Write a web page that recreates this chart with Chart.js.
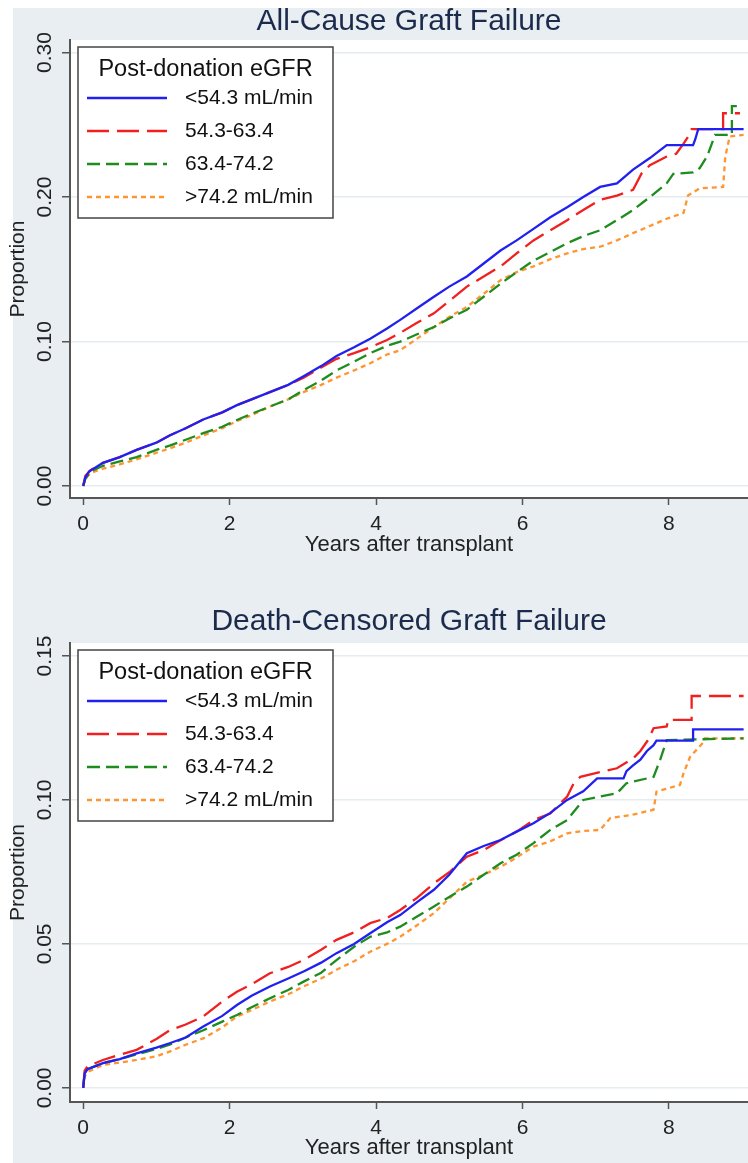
<!DOCTYPE html>
<html>
<head>
<meta charset="utf-8">
<script src="https://cdn.jsdelivr.net/npm/chart.js@4.4.0/dist/chart.umd.min.js"></script>
<style>
  html, body { margin: 0; padding: 0; background: #fff; }
  .box { position: relative; width: 748px; }
  #top { height: 580px; }
  #bottom { height: 583px; }
</style>
</head>
<body>
<div class="box" id="top"><canvas id="allCause"></canvas></div>
<div class="box" id="bottom"><canvas id="deathCens"></canvas></div>
<script>
// groups
const groups = ['<54.3 mL/min', '54.3-63.4', '63.4-74.2', '>74.2 mL/min'];
const colors = ['#2020f0', '#f02020', '#1f8c1f', '#ff9530'];
const dashes = [[], [22, 8], [13, 6], [5, 4]];
const legendTitle = 'Post-donation eGFR';

// All-cause graft failure (years, proportion)
const acLowT = [0, 0.03, 0.08, 0.27, 0.5, 0.73, 1.0, 1.18, 1.4, 1.64, 1.9, 2.1, 2.3, 2.55, 2.8, 3.01, 3.25, 3.46, 3.7, 3.92, 4.15, 4.33, 4.56, 4.79, 5.0, 5.24, 5.47, 5.7, 5.92, 6.15, 6.38, 6.61, 6.83, 7.06, 7.29, 7.51, 7.74, 7.97, 8.33, 8.36, 8.4, 9.02];
const acLowP = [0, 0.006, 0.010, 0.016, 0.020, 0.025, 0.030, 0.035, 0.040, 0.046, 0.051, 0.056, 0.060, 0.065, 0.070, 0.076, 0.083, 0.090, 0.096, 0.102, 0.109, 0.115, 0.123, 0.131, 0.138, 0.145, 0.154, 0.163, 0.170, 0.178, 0.186, 0.193, 0.200, 0.207, 0.2095, 0.219, 0.227, 0.236, 0.236, 0.240, 0.247, 0.247];

const acMidT = [0, 0.03, 0.1, 0.27, 0.5, 0.73, 1.0, 1.18, 1.4, 1.64, 1.9, 2.1, 2.3, 2.55, 2.8, 3.01, 3.25, 3.46, 3.7, 3.92, 4.15, 4.33, 4.56, 4.79, 5.0, 5.24, 5.47, 5.7, 5.92, 6.15, 6.38, 6.61, 6.83, 7.06, 7.29, 7.51, 7.63, 7.74, 7.97, 8.1, 8.2, 8.29, 8.31, 8.74, 8.74, 8.97];
const acMidP = [0, 0.007, 0.011, 0.016, 0.020, 0.025, 0.030, 0.035, 0.040, 0.046, 0.051, 0.056, 0.060, 0.065, 0.070, 0.075, 0.082, 0.088, 0.092, 0.096, 0.101, 0.106, 0.113, 0.1195, 0.128, 0.138, 0.145, 0.152, 0.161, 0.170, 0.177, 0.184, 0.191, 0.198, 0.201, 0.205, 0.2166, 0.222, 0.228, 0.230, 0.237, 0.244, 0.247, 0.247, 0.258, 0.258];

const acHighT = [0, 0.03, 0.1, 0.27, 0.5, 0.73, 1.0, 1.18, 1.4, 1.64, 1.9, 2.1, 2.3, 2.55, 2.8, 3.01, 3.25, 3.46, 3.7, 3.92, 4.15, 4.33, 4.56, 4.79, 5.0, 5.24, 5.47, 5.7, 5.92, 6.15, 6.38, 6.61, 6.83, 7.06, 7.29, 7.51, 7.74, 7.97, 8.06, 8.33, 8.42, 8.52, 8.63, 8.86, 8.86, 8.97];
const acHighP = [0, 0.005, 0.010, 0.014, 0.017, 0.020, 0.025, 0.028, 0.032, 0.0366, 0.041, 0.0457, 0.050, 0.055, 0.060, 0.0664, 0.073, 0.080, 0.086, 0.092, 0.097, 0.0999, 0.105, 0.110, 0.116, 0.122, 0.131, 0.140, 0.148, 0.156, 0.162, 0.168, 0.173, 0.177, 0.184, 0.191, 0.200, 0.2095, 0.216, 0.217, 0.220, 0.228, 0.243, 0.243, 0.263, 0.263];

const acTopT = [0, 0.03, 0.1, 0.27, 0.5, 0.73, 1.0, 1.18, 1.4, 1.64, 1.9, 2.1, 2.3, 2.55, 2.8, 3.01, 3.25, 3.46, 3.7, 3.92, 4.15, 4.33, 4.56, 4.79, 5.0, 5.24, 5.47, 5.7, 5.92, 6.15, 6.38, 6.61, 6.83, 7.06, 7.29, 7.51, 7.74, 7.97, 8.2, 8.26, 8.42, 8.74, 8.77, 8.83, 9.02];
const acTopP = [0, 0.005, 0.009, 0.012, 0.015, 0.0185, 0.023, 0.026, 0.030, 0.035, 0.040, 0.045, 0.049, 0.055, 0.060, 0.065, 0.070, 0.075, 0.080, 0.085, 0.091, 0.094, 0.102, 0.110, 0.117, 0.124, 0.133, 0.1425, 0.148, 0.152, 0.157, 0.161, 0.164, 0.1656, 0.170, 0.175, 0.180, 0.185, 0.189, 0.201, 0.206, 0.207, 0.228, 0.242, 0.243];

// Death-censored graft failure (years, proportion)
const dcLowT = [0, 0.02, 0.06, 0.27, 0.5, 0.73, 1.0, 1.18, 1.4, 1.64, 1.9, 2.1, 2.3, 2.55, 2.8, 3.01, 3.25, 3.46, 3.7, 3.92, 4.15, 4.33, 4.56, 4.79, 5.0, 5.24, 5.47, 5.7, 5.92, 6.15, 6.38, 6.61, 6.83, 7.02, 7.38, 7.42, 7.51, 7.61, 7.7, 7.79, 7.83, 8.33, 8.33, 9.02];
const dcLowP = [0, 0.005, 0.0065, 0.0086, 0.010, 0.012, 0.014, 0.0155, 0.0175, 0.0213, 0.025, 0.0288, 0.032, 0.0352, 0.038, 0.0404, 0.0435, 0.0468, 0.050, 0.0537, 0.0575, 0.060, 0.0645, 0.0688, 0.074, 0.0815, 0.084, 0.0861, 0.089, 0.0919, 0.0955, 0.100, 0.103, 0.1075, 0.1075, 0.110, 0.112, 0.114, 0.117, 0.119, 0.1206, 0.1206, 0.1245, 0.1245];

const dcMidT = [0, 0.02, 0.06, 0.27, 0.5, 0.73, 1.0, 1.18, 1.4, 1.64, 1.9, 2.1, 2.3, 2.55, 2.8, 3.01, 3.25, 3.46, 3.7, 3.92, 4.15, 4.33, 4.56, 4.79, 5.01, 5.24, 5.47, 5.7, 5.92, 6.15, 6.38, 6.61, 6.7, 6.79, 7.06, 7.29, 7.51, 7.61, 7.72, 7.79, 7.97, 7.99, 8.31, 8.31, 9.02];
const dcMidP = [0, 0.006, 0.0075, 0.0097, 0.0115, 0.0132, 0.017, 0.020, 0.022, 0.0248, 0.030, 0.0334, 0.036, 0.0398, 0.042, 0.0444, 0.048, 0.0514, 0.054, 0.0572, 0.059, 0.0618, 0.066, 0.071, 0.0751, 0.0803, 0.0826, 0.086, 0.089, 0.093, 0.0953, 0.1012, 0.1058, 0.108, 0.1097, 0.111, 0.1144, 0.117, 0.121, 0.1249, 0.1255, 0.1278, 0.1278, 0.1361, 0.1361];

const dcHighT = [0, 0.02, 0.06, 0.27, 0.5, 0.73, 1.0, 1.18, 1.4, 1.64, 1.9, 2.1, 2.3, 2.55, 2.8, 3.01, 3.25, 3.46, 3.7, 3.92, 4.15, 4.33, 4.56, 4.79, 5.01, 5.24, 5.47, 5.7, 5.92, 6.15, 6.38, 6.61, 6.83, 7.06, 7.29, 7.42, 7.79, 7.88, 7.97, 9.02];
const dcHighP = [0, 0.005, 0.0065, 0.0086, 0.010, 0.0116, 0.0135, 0.015, 0.0175, 0.020, 0.023, 0.0253, 0.028, 0.0311, 0.034, 0.0369, 0.040, 0.0444, 0.049, 0.0525, 0.054, 0.056, 0.0595, 0.063, 0.0665, 0.0699, 0.074, 0.078, 0.081, 0.085, 0.0896, 0.093, 0.100, 0.1012, 0.1023, 0.1058, 0.108, 0.1139, 0.1208, 0.1214];

const dcTopT = [0, 0.02, 0.06, 0.27, 0.5, 0.73, 1.0, 1.18, 1.4, 1.64, 1.9, 2.1, 2.3, 2.55, 2.8, 3.01, 3.25, 3.46, 3.7, 3.92, 4.15, 4.33, 4.56, 4.79, 5.01, 5.24, 5.47, 5.7, 5.92, 6.15, 6.38, 6.61, 6.83, 7.06, 7.2, 7.51, 7.79, 7.83, 8.15, 8.2, 8.29, 8.47, 8.49, 9.02];
const dcTopP = [0, 0.004, 0.0055, 0.008, 0.0088, 0.0097, 0.011, 0.0126, 0.015, 0.0172, 0.021, 0.0248, 0.027, 0.030, 0.0325, 0.0352, 0.038, 0.041, 0.044, 0.0473, 0.050, 0.0525, 0.0565, 0.0607, 0.066, 0.0716, 0.074, 0.0768, 0.080, 0.0838, 0.0856, 0.0884, 0.0892, 0.0896, 0.0937, 0.0949, 0.0966, 0.1029, 0.1052, 0.1093, 0.115, 0.120, 0.1214, 0.1214];

const FONT = '"Liberation Sans", Arial, Helvetica, sans-serif';

function pairs(ts, ps) {
  return ts.map((t, i) => ({ x: t, y: ps[i] }));
}

function makeSets(series) {
  return series.map((s, i) => ({
    label: groups[i],
    data: pairs(s[0], s[1]),
    borderColor: colors[i],
    borderDash: dashes[i],
    borderWidth: 2.3,
    pointRadius: 0,
    tension: 0,
    fill: false,
  }));
}

// grey page background + white plot region
const backdrop = {
  id: 'backdrop',
  beforeDraw(chart, args, opts) {
    const { ctx, width, height, chartArea: a } = chart;
    ctx.save();
    ctx.fillStyle = '#fff';
    ctx.fillRect(0, 0, width, height);
    ctx.fillStyle = '#e8eef1';
    ctx.fillRect(13, opts.top, width - 13, height - opts.top);
    ctx.fillStyle = '#fff';
    ctx.fillRect(a.left, a.top, a.right - a.left, a.bottom - a.top);
    ctx.restore();
  }
};

// vertical y tick labels, Stata style
const yLabels = {
  id: 'yLabels',
  afterDraw(chart) {
    const y = chart.scales.y;
    const ctx = chart.ctx;
    ctx.save();
    ctx.font = '21px ' + FONT;
    ctx.fillStyle = '#222';
    ctx.textAlign = 'center';
    ctx.textBaseline = 'middle';
    y.ticks.forEach(t => {
      const py = y.getPixelForValue(t.value);
      ctx.save();
      ctx.translate(45, py);
      ctx.rotate(-Math.PI / 2);
      ctx.fillText(t.value.toFixed(2), 0, 0);
      ctx.restore();
    });
    ctx.restore();
  }
};

// boxed legend inside the plot
const boxLegend = {
  id: 'boxLegend',
  afterDatasetsDraw(chart) {
    const { ctx, chartArea: a } = chart;
    const x0 = a.left + 8, y0 = a.top + 7, w = 255, h = 171;
    ctx.save();
    ctx.fillStyle = '#fff';
    ctx.fillRect(x0, y0, w, h);
    ctx.strokeStyle = '#444';
    ctx.lineWidth = 1.5;
    ctx.strokeRect(x0, y0, w, h);
    ctx.fillStyle = '#111';
    ctx.font = '23.5px ' + FONT;
    ctx.textAlign = 'center';
    ctx.textBaseline = 'middle';
    ctx.fillText(legendTitle, x0 + w / 2, y0 + 23);
    ctx.font = '21px ' + FONT;
    chart.data.datasets.forEach((ds, i) => {
      const yy = y0 + 51 + i * 33;
      ctx.strokeStyle = ds.borderColor;
      ctx.lineWidth = 2.3;
      ctx.setLineDash(ds.borderDash);
      ctx.beginPath();
      ctx.moveTo(x0 + 9, yy);
      ctx.lineTo(x0 + 89, yy);
      ctx.stroke();
      ctx.setLineDash([]);
      ctx.textAlign = 'left';
      ctx.fillText(ds.label, x0 + 107, yy);
    });
    ctx.restore();
  }
};

function makeChart(id, cfg) {
  return new Chart(document.getElementById(id), {
    type: 'line',
    data: { datasets: makeSets(cfg.series) },
    plugins: [backdrop, yLabels, boxLegend],
    options: {
      responsive: true,
      maintainAspectRatio: false,
      animation: false,
      layout: { padding: 0 },
      plugins: {
        legend: { display: false },
        tooltip: { enabled: false },
        backdrop: { top: cfg.bgTop },
        title: {
          display: true,
          fullSize: false,
          text: cfg.title,
          color: '#1c2b4b',
          font: { family: FONT, size: 30, weight: 'normal', lineHeight: 1.15 },
          padding: cfg.titlePad,
        },
      },
      scales: {
        x: {
          type: 'linear',
          min: -0.18,
          max: 9.08,
          afterFit: s => { s.height = cfg.xHeight; },
          ticks: { stepSize: 2, includeBounds: false, color: '#222', padding: 7,
            font: { family: FONT, size: 21 }, maxRotation: 0 },
          grid: { drawOnChartArea: false, tickLength: 7, tickColor: '#555', tickWidth: 1.5 },
          border: { color: '#555', width: 2 },
          title: { display: true, text: 'Years after transplant', color: '#222',
            font: { family: FONT, size: 22, lineHeight: 1.2 },
            padding: { top: 0, bottom: cfg.xTitleBottom } },
        },
        y: {
          type: 'linear',
          min: cfg.yMin,
          max: cfg.yMax,
          afterFit: s => { s.width = 70; },
          ticks: { stepSize: cfg.yStep, includeBounds: false, display: false },
          grid: { color: '#e4ecef', lineWidth: 1.5, tickLength: 8, tickColor: '#555', tickWidth: 1.5 },
          border: { color: '#555', width: 2 },
          title: { display: true, text: 'Proportion', color: '#222',
            font: { family: FONT, size: 21, lineHeight: 1.2 },
            padding: { top: 6, bottom: 0 } },
        },
      },
    },
  });
}

makeChart('allCause', {
  title: 'All-Cause Graft Failure',
  titlePad: { top: 4, bottom: 1.5 },
  bgTop: 8,
  xHeight: 82,
  xTitleBottom: 22,
  yMin: -0.0083,
  yMax: 0.3087,
  yStep: 0.1,
  series: [[acLowT, acLowP], [acMidT, acMidP], [acHighT, acHighP], [acTopT, acTopP]],
});

makeChart('deathCens', {
  title: 'Death-Censored Graft Failure',
  titlePad: { top: 24, bottom: 4.5 },
  bgTop: 0,
  xHeight: 61,
  xTitleBottom: 2,
  yMin: -0.0049,
  yMax: 0.1545,
  yStep: 0.05,
  series: [[dcLowT, dcLowP], [dcMidT, dcMidP], [dcHighT, dcHighP], [dcTopT, dcTopP]],
});
</script>
</body>
</html>
